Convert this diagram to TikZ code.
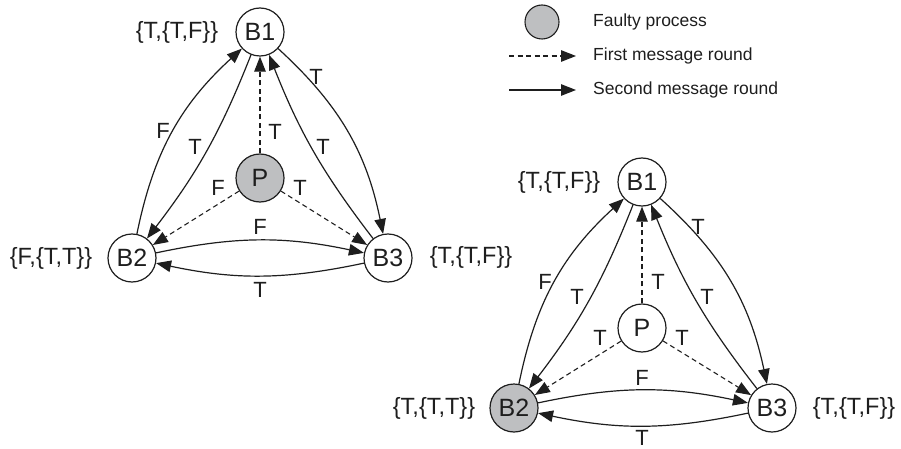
\documentclass[tikz,border=0pt]{standalone}
\usepackage{fontspec}
\setmainfont{Liberation Sans}
\usetikzlibrary{arrows.meta}
\definecolor{faultgray}{RGB}{190,191,193}
\definecolor{ink}{RGB}{30,30,30}
\tikzset{
  proc/.style={circle, draw=ink, line width=1.2pt, minimum size=48pt, inner sep=0pt,
    fill=white, text=ink, font=\fontsize{25}{27}\selectfont},
  faulty/.style={proc, fill=faultgray},
  vals/.style={inner sep=0pt, text=ink, font=\fontsize{23.5}{26}\selectfont},
  lbl/.style={inner sep=0pt, text=ink, font=\fontsize{22}{24}\selectfont},
  legtext/.style={inner sep=0pt, anchor=west, text=ink, font=\fontsize{17.5}{20}\selectfont},
  tip/.style={-{Triangle[length=15pt,width=11.5pt]}},
  msgone/.style={tip, draw=ink, line width=1.1pt, dash pattern=on 5pt off 3.5pt},
  msgtwo/.style={tip, draw=ink, line width=1.2pt},
}
\begin{document}
\begin{tikzpicture}[x=1pt,y=1pt]
\useasboundingbox (0,0) rectangle (901,-449);

% legend
\node[circle, draw=ink, line width=1.1pt, fill=faultgray, minimum size=34pt, inner sep=0pt] (legP) at (542,-22) {};
\node[legtext] (legPt) at (593,-22) {Faulty process};
\coordinate (d0) at (509,-56);
\coordinate (d1) at (576,-56);
\draw[msgone] (d0) -- (d1);
\node[legtext] (legDt) at (593,-56) {First message round};
\coordinate (s0) at (509,-90);
\coordinate (s1) at (576,-90);
\draw[msgtwo] (s0) -- (s1);
\node[legtext] (legSt) at (593,-90) {Second message round};

% case 1: the commander P is faulty
\node[proc]   (B1) at (260,-32)  {B1};
\node[faulty] (P)  at (260,-178) {P};
\node[proc]   (B2) at (132,-258) {B2};
\node[proc]   (B3) at (388,-258) {B3};
\node[vals] (v1) at (177,-32)  {\{T,\{T,F\}\}};
\node[vals] (v2) at (51,-258)  {\{F,\{T,T\}\}};
\node[vals] (v3) at (471,-257) {\{T,\{T,F\}\}};
\draw[msgone] (P) -- (B1);
\draw[msgone] (P) -- (B2);
\draw[msgone] (P) -- (B3);
\draw[msgtwo] (B2) to[bend left=18] (B1);
\draw[msgtwo] (B1) to[bend left=8]  (B2);
\draw[msgtwo] (B1) to[bend left=18] (B3);
\draw[msgtwo] (B3) to[bend left=8]  (B1);
\draw[msgtwo] (B2) to[bend left=12] (B3);
\draw[msgtwo] (B3) to[bend left=12] (B2);
\node[lbl] (a1) at (275,-132) {T};
\node[lbl] (a2) at (218,-188) {F};
\node[lbl] (a3) at (300,-188) {T};
\node[lbl] (a4) at (163,-131) {F};
\node[lbl] (a5) at (195,-147) {T};
\node[lbl] (a6) at (316,-77)  {T};
\node[lbl] (a7) at (323,-147) {T};
\node[lbl] (a8) at (260,-227) {F};
\node[lbl] (a9) at (260,-290) {T};

% case 2: lieutenant B2 is faulty
\begin{scope}[shift={(382,-150)}]
  \node[proc]   (C1) at (260,-32)  {B1};
  \node[proc]   (Q)  at (260,-178) {P};
  \node[faulty] (C2) at (132,-258) {B2};
  \node[proc]   (C3) at (390,-258) {B3};
  \node[vals] (w1) at (177,-32)  {\{T,\{T,F\}\}};
  \node[vals] (w2) at (52,-258)  {\{T,\{T,T\}\}};
  \node[vals] (w3) at (472,-258) {\{T,\{T,F\}\}};
  \draw[msgone] (Q) -- (C1);
  \draw[msgone] (Q) -- (C2);
  \draw[msgone] (Q) -- (C3);
  \draw[msgtwo] (C2) to[bend left=18] (C1);
  \draw[msgtwo] (C1) to[bend left=8]  (C2);
  \draw[msgtwo] (C1) to[bend left=18] (C3);
  \draw[msgtwo] (C3) to[bend left=8]  (C1);
  \draw[msgtwo] (C2) to[bend left=12] (C3);
  \draw[msgtwo] (C3) to[bend left=12] (C2);
  \node[lbl] (b1) at (276,-132) {T};
  \node[lbl] (b2) at (218,-188) {T};
  \node[lbl] (b3) at (300,-188) {T};
  \node[lbl] (b4) at (163,-132) {F};
  \node[lbl] (b5) at (195,-147) {T};
  \node[lbl] (b6) at (316,-77)  {T};
  \node[lbl] (b7) at (325,-147) {T};
  \node[lbl] (b8) at (260,-228) {F};
  \node[lbl] (b9) at (260,-287.5) {T};
\end{scope}
\end{tikzpicture}
\end{document}
